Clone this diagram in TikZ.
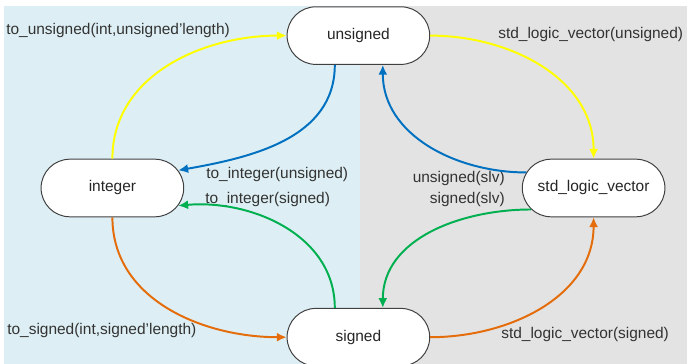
\documentclass[tikz,border=0pt]{standalone}
\usepackage{fontspec}
\setmainfont{Liberation Sans}
\usetikzlibrary{shapes.misc, arrows.meta, positioning}

\definecolor{leftbg}{HTML}{DDEFF4}
\definecolor{rightbg}{HTML}{E3E3E3}
\definecolor{convyellow}{HTML}{FFFF00}
\definecolor{convblue}{HTML}{0070C0}
\definecolor{convgreen}{HTML}{00B050}
\definecolor{convorange}{HTML}{E46C0A}

\begin{document}
\begin{tikzpicture}[>={Latex[length=7pt,width=6.5pt]}, font=\fontsize{11}{13}\selectfont,
    state/.style={draw=black!75, line width=0.7pt, rounded rectangle, fill=white, text=black!85, minimum height=1.44cm, minimum width=3.8cm},
    conv/.style={->, line width=1.4pt},
    lbl/.style={inner sep=0pt, text=black!80}]

  \useasboundingbox (0,0) rectangle (17.2,-9.1);
  \fill[leftbg] (0.1,-0.15) rectangle (9.0,-9.1);
  \fill[rightbg] (9.0,-0.15) rectangle (17.18,-9.1);

  \node[state] (uns) at (8.96,-0.89) {unsigned};

  \node[state, on grid, below left=3.81cm and 6.15cm of uns] (int) {integer};
  \node[state, on grid, below right=3.81cm and 5.88cm of uns] (slv) {std\_logic\_vector};
  \node[state, on grid, below=7.54cm of uns] (sgn) {signed};

  % labels
  \node[lbl, anchor=west] (lintuns) at (0.15,-0.775) {to\_unsigned(int,unsigned'length)};
  \node[lbl, anchor=west] (lunsslv) at (12.45,-0.875) {std\_logic\_vector(unsigned)};
  \node[lbl, anchor=west] (lunsint) at (5.15,-4.375) {to\_integer(unsigned)};
  \node[lbl, anchor=west] (lsgnint) at (5.125,-5.0) {to\_integer(signed)};
  \node[lbl, anchor=east] (lslvuns) at (12.625,-4.475) {unsigned(slv)};
  \node[lbl, anchor=east] (lslvsgn) at (12.625,-5.0) {signed(slv)};
  \node[lbl, anchor=west] (lintsgn) at (0.175,-8.275) {to\_signed(int,signed'length)};
  \node[lbl, anchor=west] (lsgnslv) at (12.525,-8.375) {std\_logic\_vector(signed)};

  \draw[conv, convyellow] (int.north) to[out=90, in=180] (uns.west);
  \draw[conv, convyellow] (uns.east) to[out=0, in=90] (slv.north);
  \draw[conv, convblue] ([xshift=-0.59cm]uns.south) to[out=-90, in=10] (int.15);
  \draw[conv, convblue] (slv.167) to[out=180, in=-90] ([xshift=0.61cm]uns.south);
  \draw[conv, convgreen] ([xshift=-0.59cm]sgn.north) to[out=90, in=5] (int.-15);
  \draw[conv, convgreen] (slv.-161) to[out=180, in=90] ([xshift=0.61cm]sgn.north);
  \draw[conv, convorange] (int.south) to[out=-90, in=180] (sgn.west);
  \draw[conv, convorange] (sgn.east) to[out=0, in=-90] (slv.south);
\end{tikzpicture}
\end{document}
